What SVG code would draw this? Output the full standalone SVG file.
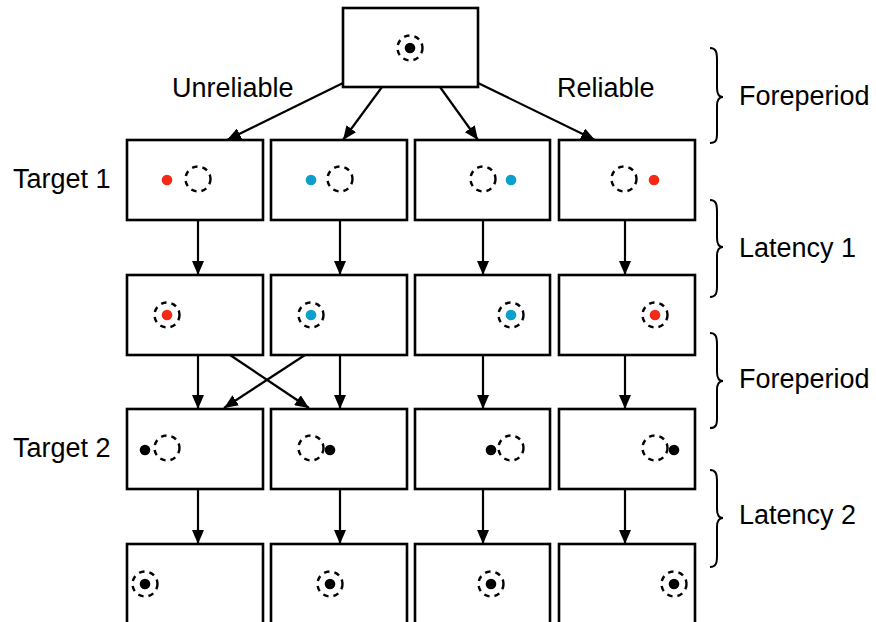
<svg xmlns="http://www.w3.org/2000/svg" width="876" height="622" viewBox="0 0 876 622">
<style>
.box{fill:#fff;stroke:#000;stroke-width:2.6}
.ring{fill:none;stroke:#000;stroke-width:2.4;stroke-dasharray:5.5 5}
.dot{fill:#000}
.red{fill:#f52a16}
.blue{fill:#0ba0cc}
.lbl{font-family:"Liberation Sans",Arial,sans-serif;font-size:27px;fill:#000}
.con line{stroke:#000;stroke-width:2.2;marker-end:url(#ah)}
.brace{fill:none;stroke:#000;stroke-width:2}
</style>
<defs>
<marker id="ah" markerUnits="userSpaceOnUse" markerWidth="15" markerHeight="12" refX="14" refY="6" orient="auto">
<path d="M0,0 L14,6 L0,12 z" fill="#000"/>
</marker>
</defs>
<rect width="876" height="622" fill="#fff"/>

<g id="connectors" class="con">
<line x1="343" y1="83" x2="227" y2="140"/>
<line x1="382" y1="87" x2="343" y2="140"/>
<line x1="440" y1="87" x2="478" y2="140"/>
<line x1="478" y1="83" x2="595" y2="140"/>
<line x1="198" y1="220" x2="198" y2="275"/>
<line x1="340" y1="220" x2="340" y2="275"/>
<line x1="483" y1="220" x2="483" y2="275"/>
<line x1="625" y1="220" x2="625" y2="275"/>
<line x1="198" y1="355" x2="198" y2="409"/>
<line x1="340" y1="355" x2="340" y2="409"/>
<line x1="483" y1="355" x2="483" y2="409"/>
<line x1="625" y1="355" x2="625" y2="409"/>
<line x1="230" y1="355" x2="309" y2="408"/>
<line x1="305" y1="355" x2="224" y2="408"/>
<line x1="198" y1="489" x2="198" y2="544"/>
<line x1="340" y1="489" x2="340" y2="544"/>
<line x1="483" y1="489" x2="483" y2="544"/>
<line x1="625" y1="489" x2="625" y2="544"/>
</g>

<g id="start">
<rect class="box" x="343" y="8" width="135" height="79"/>
<circle class="ring" cx="410" cy="48" r="12.5"/>
<circle class="dot" cx="410" cy="48" r="5.3"/>
</g>

<g id="t1-a"><rect class="box" x="127" y="140" width="136" height="80"/><circle class="red" cx="167" cy="180" r="5.3"/><circle class="ring" cx="198" cy="179" r="12.5"/></g>
<g id="t1-b"><rect class="box" x="271" y="140" width="136" height="80"/><circle class="blue" cx="311" cy="180" r="5.3"/><circle class="ring" cx="340" cy="179" r="12.5"/></g>
<g id="t1-c"><rect class="box" x="415" y="140" width="135" height="80"/><circle class="ring" cx="483" cy="179" r="12.5"/><circle class="blue" cx="511" cy="180" r="5.3"/></g>
<g id="t1-d"><rect class="box" x="559" y="140" width="136" height="80"/><circle class="ring" cx="624" cy="179" r="12.5"/><circle class="red" cx="654" cy="180" r="5.3"/></g>

<g id="l1-a"><rect class="box" x="127" y="275" width="136" height="80"/><circle class="ring" cx="167" cy="315" r="12.5"/><circle class="red" cx="167" cy="315" r="5.3"/></g>
<g id="l1-b"><rect class="box" x="271" y="275" width="136" height="80"/><circle class="ring" cx="311" cy="315" r="12.5"/><circle class="blue" cx="311" cy="315" r="5.3"/></g>
<g id="l1-c"><rect class="box" x="415" y="275" width="135" height="80"/><circle class="ring" cx="511" cy="315" r="12.5"/><circle class="blue" cx="511" cy="315" r="5.3"/></g>
<g id="l1-d"><rect class="box" x="559" y="275" width="136" height="80"/><circle class="ring" cx="655" cy="315" r="12.5"/><circle class="red" cx="655" cy="315" r="5.3"/></g>

<g id="t2-a"><rect class="box" x="127" y="409" width="136" height="80"/><circle class="dot" cx="145" cy="450" r="5.3"/><circle class="ring" cx="167" cy="448" r="12.5"/></g>
<g id="t2-b"><rect class="box" x="271" y="409" width="136" height="80"/><circle class="ring" cx="311" cy="448" r="12.5"/><circle class="dot" cx="330" cy="450" r="5.3"/></g>
<g id="t2-c"><rect class="box" x="415" y="409" width="135" height="80"/><circle class="dot" cx="491" cy="450" r="5.3"/><circle class="ring" cx="511" cy="448" r="12.5"/></g>
<g id="t2-d"><rect class="box" x="559" y="409" width="136" height="80"/><circle class="ring" cx="655" cy="448" r="12.5"/><circle class="dot" cx="674" cy="450" r="5.3"/></g>

<g id="l2-a"><rect class="box" x="127" y="544" width="136" height="80"/><circle class="ring" cx="145" cy="584" r="12.5"/><circle class="dot" cx="145" cy="584" r="5.3"/></g>
<g id="l2-b"><rect class="box" x="271" y="544" width="136" height="80"/><circle class="ring" cx="330" cy="584" r="12.5"/><circle class="dot" cx="330" cy="584" r="5.3"/></g>
<g id="l2-c"><rect class="box" x="415" y="544" width="135" height="80"/><circle class="ring" cx="491" cy="584" r="12.5"/><circle class="dot" cx="491" cy="584" r="5.3"/></g>
<g id="l2-d"><rect class="box" x="559" y="544" width="136" height="80"/><circle class="ring" cx="674" cy="584" r="12.5"/><circle class="dot" cx="674" cy="584" r="5.3"/></g>

<g id="labels">
<text class="lbl" x="172" y="97">Unreliable</text>
<text class="lbl" x="557" y="97">Reliable</text>
<text class="lbl" x="13" y="188">Target 1</text>
<text class="lbl" x="13" y="457">Target 2</text>
<text class="lbl" x="739" y="105">Foreperiod</text>
<text class="lbl" x="739" y="257">Latency 1</text>
<text class="lbl" x="739" y="388">Foreperiod</text>
<text class="lbl" x="739" y="524">Latency 2</text>
</g>

<g id="braces">
<path class="brace" d="M710,48 C716,48 717,52 717,60 L717,88 C717,94 719,97 723,97 C719,97 717,100 717,106 L717,134 C717,140 716,143 710,143"/>
<path class="brace" d="M710,200 C716,200 717,204 717,212 L717,238 C717,244 719,247 723,247 C719,247 717,250 717,256 L717,286 C717,293 716,297 710,297"/>
<path class="brace" d="M710,333 C716,333 717,337 717,345 L717,372 C717,378 719,381 723,381 C719,381 717,384 717,390 L717,418 C717,425 716,428 710,428"/>
<path class="brace" d="M710,470 C716,470 717,474 717,482 L717,509 C717,515 719,518 723,518 C719,518 717,521 717,527 L717,556 C717,563 716,567 710,567"/>
</g>
</svg>
